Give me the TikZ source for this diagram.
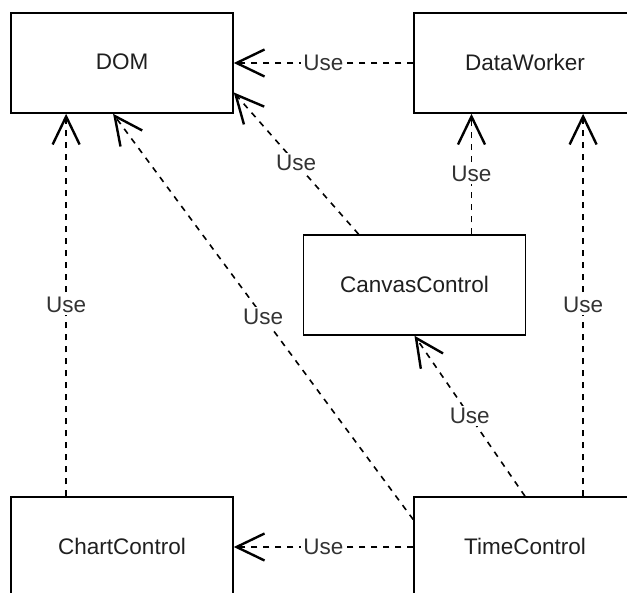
\documentclass[tikz,border=0pt]{standalone}
\usepackage{fontspec}
\setmainfont{Liberation Sans}
\usetikzlibrary{arrows.meta,calc}
\begin{document}
\begin{tikzpicture}[x=1bp,y=-1bp,
  box/.style={draw=black, line width=1.5bp, minimum width=222bp, minimum height=100bp, inner sep=0pt, fill=white, text=black!88, font=\fontsize{22.5bp}{27bp}\selectfont},
  usearrow/.style={draw=black, line width=1.6bp, dash pattern=on 6bp off 6bp, -{Straight Barb[length=28bp,width=27bp,line width=2.4bp]}},
  lbl/.style={fill=white, inner sep=2bp, text=black!80, font=\fontsize{22.5bp}{27bp}\selectfont}]
\useasboundingbox (0,0) rectangle (627,593);
\clip (0,0) rectangle (627,593);
% boxes
\node[box] (dom) at (122,63) {\raisebox{2bp}{DOM}};
\node[box] (dw) at (525,63) {\raisebox{2bp}{DataWorker}};
\node[box] (cc) at (414.5,285) {\raisebox{2bp}{CanvasControl}};
\node[box] (cd) at (122,547) {\raisebox{2bp}{ChartControl}};
\node[box] (tc) at (525,547) {\raisebox{2bp}{TimeControl}};
% anchor points
\coordinate (ccA) at ($(cc.north west)!.25!(cc.north east)$);
\coordinate (ccB) at ($(cc.north west)!.755!(cc.north east)$);
\coordinate (domR) at ($(dom.north east)!.79!(dom.south east)$);
\coordinate (domB) at ($(dom.south west)!.46!(dom.south east)$);
\coordinate (cdT) at ($(cd.north west)!.25!(cd.north east)$);
\coordinate (tcL) at ($(tc.north west)!.23!(tc.south west)$);
\coordinate (tcT) at ($(tc.north west)!.76!(tc.north east)$);
% connectors
\draw[usearrow] (dw.west) -- node[lbl] {Use} (dom.east);
\draw[usearrow] (ccA) -- node[lbl] {Use} (domR);
\draw[usearrow] (ccB) -- node[lbl] {Use} (ccB |- dw.south);
\draw[usearrow] (cdT) -- node[lbl] {Use} (cdT |- dom.south);
\draw[usearrow] (tcL) -- node[lbl] {Use} (domB);
\draw[usearrow] (tcT) -- node[lbl] {Use} (tcT |- dw.south);
\draw[usearrow] (tc.north) -- node[lbl] {Use} (cc.south);
\draw[usearrow] (tc.west) -- node[lbl] {Use} (cd.east);
\end{tikzpicture}
\end{document}
